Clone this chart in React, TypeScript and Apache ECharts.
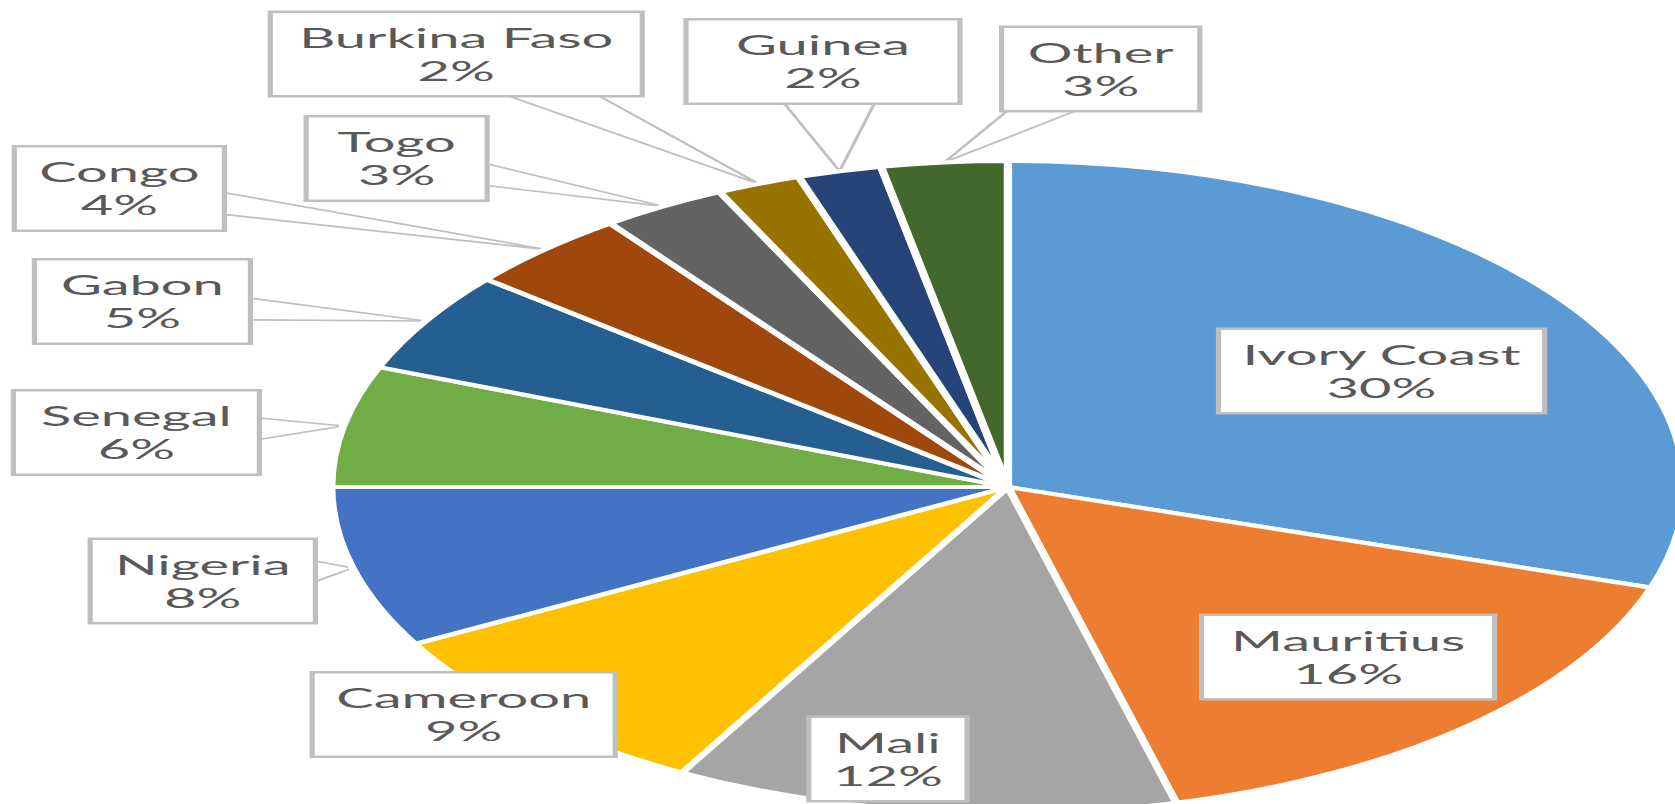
import React, { useEffect, useRef } from 'react';
import * as echarts from 'echarts';

// ---- data ----
const categories = [
  'Ivory Coast', 'Mauritius', 'Mali', 'Cameroon', 'Nigeria', 'Senegal',
  'Gabon', 'Congo', 'Togo', 'Burkina Faso', 'Guinea', 'Other',
];
const shares = [30, 16, 12, 9, 8, 6, 5, 4, 3, 2, 2, 3];

// ---- styles / layout ----
const sliceColors = [
  '#5B9BD5', '#ED7D31', '#A5A5A5', '#FFC000', '#4472C4', '#70AD47',
  '#255E91', '#9E480E', '#636363', '#997300', '#264478', '#43682B',
];
const INNER_W = 807;
const INNER_H = 804;
const STRETCH = 1675 / INNER_W;
const CENTER = [485.6, 487];
const RADIUS = 326;
const BOX_H = 82;
const PAD_H = 4;
// label box centres (unstretched chart coordinates)
const labelCenters = [
  [665.6, 371], [649.5, 657], [427.8, 759], [223.4, 714.5], [97.7, 581], [65.7, 432.5],
  [68.6, 301.5], [57.5, 188.5], [191.1, 158.5], [219.8, 54], [396.5, 61.5], [530.3, 69],
];
const labelWidths = [154.6, 138.7, 73.7, 143.5, 106, 116, 101.6, 98.7, 84.7, 176.7, 129.5, 93];
const insideLabels = [true, true, true, true, false, false, false, false, false, false, false, false];

const clamp = (v: number, a: number, b: number) => Math.max(a, Math.min(b, v));

export default function App() {
  const ref = useRef<HTMLDivElement>(null);

  useEffect(() => {
    if (!ref.current) return;
    const chart = echarts.init(ref.current, undefined, { renderer: 'svg' });
    const total = shares.reduce((s, v) => s + v, 0);
    const midAngles: number[] = [];
    let acc = 0;
    shares.forEach((v) => {
      midAngles.push(((acc + v / 2) / total) * Math.PI * 2);
      acc += v;
    });

    const data = categories.map((name, i) => ({
      name,
      value: shares[i],
      itemStyle: { color: sliceColors[i] },
      label: {
        position: insideLabels[i] ? 'inside' : 'outside',
        width: labelWidths[i] - 2 * PAD_H,
      },
      labelLine: { show: !insideLabels[i] },
    }));

    chart.setOption({
      animation: false,
      backgroundColor: '#ffffff',
      series: [
        {
          type: 'pie',
          center: CENTER,
          radius: RADIUS,
          startAngle: 90,
          clockwise: true,
          avoidLabelOverlap: false,
          itemStyle: { borderColor: '#ffffff', borderWidth: 4 },
          label: {
            show: true,
            formatter: '{b}\n{d}%',
            fontFamily: 'Lato, "Open Sans", sans-serif',
            fontSize: 27,
            lineHeight: 33,
            color: '#595959',
            align: 'center',
            backgroundColor: '#ffffff',
            borderColor: '#bfbfbf',
            borderWidth: 2.5,
            padding: [8, PAD_H],
          },
          labelLine: {
            show: true,
            lineStyle: { color: '#bfbfbf', width: 1.6 },
          },
          emphasis: { disabled: true },
          labelLayout: (params: any) => {
            const i = params.dataIndex;
            const [bx, by] = labelCenters[i];
            const res: any = { x: bx, y: by, align: 'center', verticalAlign: 'middle' };
            if (!insideLabels[i]) {
              const a = midAngles[i];
              const tip = [CENTER[0] + RADIUS * Math.sin(a), CENTER[1] - RADIUS * Math.cos(a)];
              const hw = labelWidths[i] / 2;
              const hh = BOX_H / 2;
              const dx = tip[0] - bx;
              const dy = tip[1] - by;
              const tx = hw / Math.max(Math.abs(dx), 1e-6);
              const ty = hh / Math.max(Math.abs(dy), 1e-6);
              let p1: number[];
              let p2: number[];
              if (tx <= ty) {
                const px = bx + dx * tx;
                const py = by + dy * tx;
                p1 = [px, clamp(py - 11, by - hh + 2, by + hh - 2)];
                p2 = [px, clamp(py + 11, by - hh + 2, by + hh - 2)];
              } else {
                const px = bx + dx * ty;
                const py = by + dy * ty;
                p1 = [clamp(px - 22, bx - hw + 2, bx + hw - 2), py];
                p2 = [clamp(px + 22, bx - hw + 2, bx + hw - 2), py];
              }
              res.labelLinePoints = [p1, tip, p2];
            }
            return res;
          },
          data,
        },
      ],
    });
    return () => chart.dispose();
  }, []);

  return (
    <div
      style={{
        position: 'fixed',
        left: 0,
        top: 0,
        width: 1675,
        height: 804,
        overflow: 'hidden',
        background: '#ffffff',
      }}
    >
      <div
        ref={ref}
        style={{
          width: INNER_W,
          height: INNER_H,
          transform: `scaleX(${STRETCH})`,
          transformOrigin: '0 0',
        }}
      />
    </div>
  );
}
